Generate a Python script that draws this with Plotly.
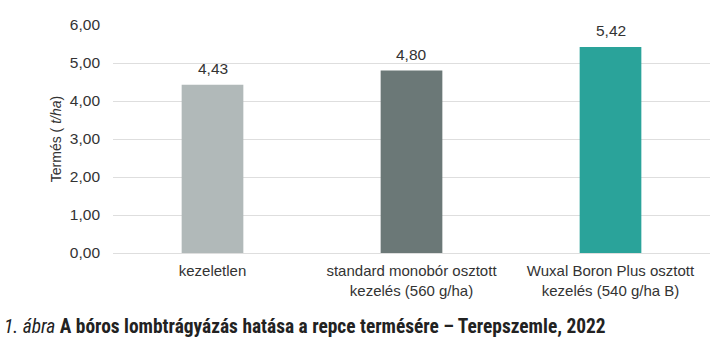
import plotly.graph_objects as go

categories = ["kezeletlen", "standard monobór osztott<br>kezelés (560 g/ha)", "Wuxal Boron Plus osztott<br>kezelés (540 g/ha B)"]
values = [4.43, 4.80, 5.42]
colors = ["#b1b9b9", "#6b7877", "#2aa39a"]
tick_vals = [0, 1, 2, 3, 4, 5, 6]

fig = go.Figure(go.Bar(
    x=categories, y=values, marker_color=colors, marker_line_width=0,
    width=0.31,
))

for c, v in zip(categories, values):
    fig.add_annotation(
        x=c, y=v, text=f"{v:.2f}".replace(".", ","), showarrow=False,
        yanchor="bottom", yshift=6, font=dict(size=15.5, color="#333333"),
    )

fig.update_layout(
    width=725, height=340,
    margin=dict(l=113, r=15, t=25, b=87),
    paper_bgcolor="white", plot_bgcolor="white",
    font=dict(family="Liberation Sans, Arial, sans-serif", size=15.5, color="#333333"),
    separators=", ",
    showlegend=False,
)
fig.update_yaxes(
    range=[0, 6], tickvals=tick_vals, tickformat=".2f",
    showgrid=True, gridcolor="#dedede", gridwidth=1,
    zeroline=True, zerolinecolor="#dedede", zerolinewidth=1,
    showline=False, ticks="", ticklabelstandoff=12,
    title=dict(text="Termés ( <i>t/ha</i>)", font=dict(size=14), standoff=4),
)
fig.update_xaxes(showline=False, ticks="", tickfont=dict(size=15), ticklabelstandoff=7)

fig.add_annotation(
    xref="paper", yref="paper", x=-111/597, y=-0.265, xanchor="left", yanchor="top",
    showarrow=False,
    text="<i>1. ábra</i> <b>A bóros lombtrágyázás hatása a repce termésére – Terepszemle, 2022</b>",
    font=dict(family="Liberation Sans Narrow, Roboto Condensed, Liberation Sans, sans-serif", size=19.4, color="#222222"),
)

fig.write_html("out.html")
